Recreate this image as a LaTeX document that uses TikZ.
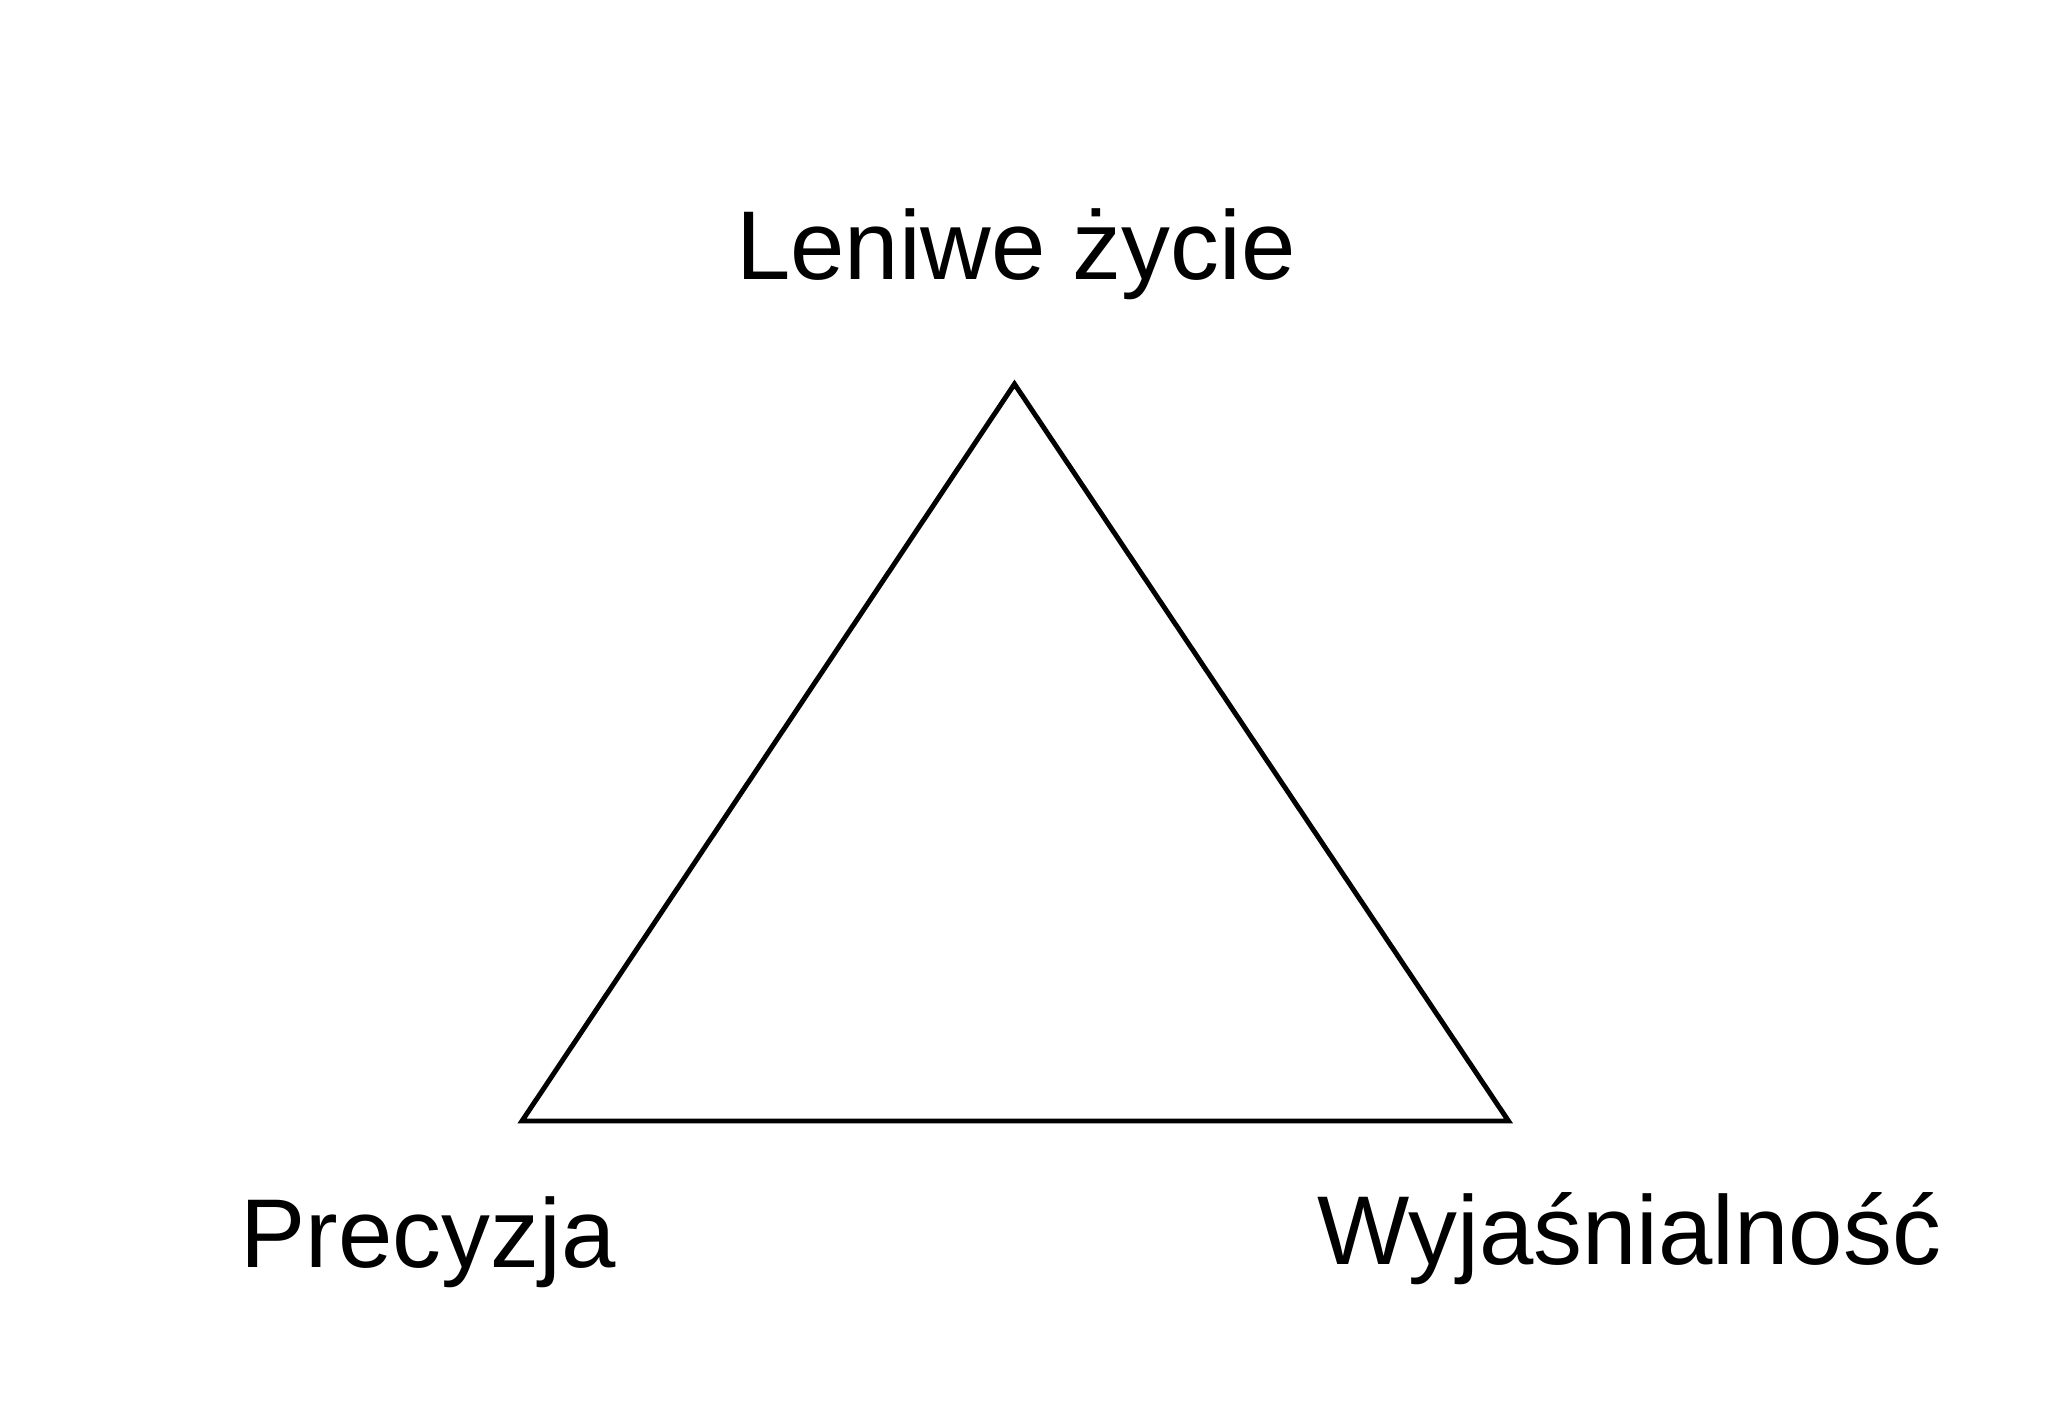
\documentclass[tikz,border=0pt]{standalone}
\usepackage{fontspec}
\setmainfont{Liberation Sans}
\usepackage{tikz}
\usetikzlibrary{positioning}

\begin{document}
\begin{tikzpicture}[
  x=0.01cm, y=-0.01cm,
  corner/.style={font=\fontsize{27.8}{33}\selectfont, anchor=base, inner sep=0pt},
  edge/.style={draw=black, line width=1.4pt}
]
  \useasboundingbox (0,0) rectangle (2050,1418);
  \coordinate (top) at (1014.5,384);
  \coordinate (left) at (522,1121);
  \coordinate (right) at (1508.5,1121);
  \draw[edge] (top) -- (right) -- (left) -- cycle;

  \node[corner] (lazy) at (1016,279) {Leniwe życie};
  \node[corner] (prec) at (428,1267) {Precyzja};
  \node[corner] (expl) at (1629,1264) {Wyjaśnialność};
\end{tikzpicture}
\end{document}
